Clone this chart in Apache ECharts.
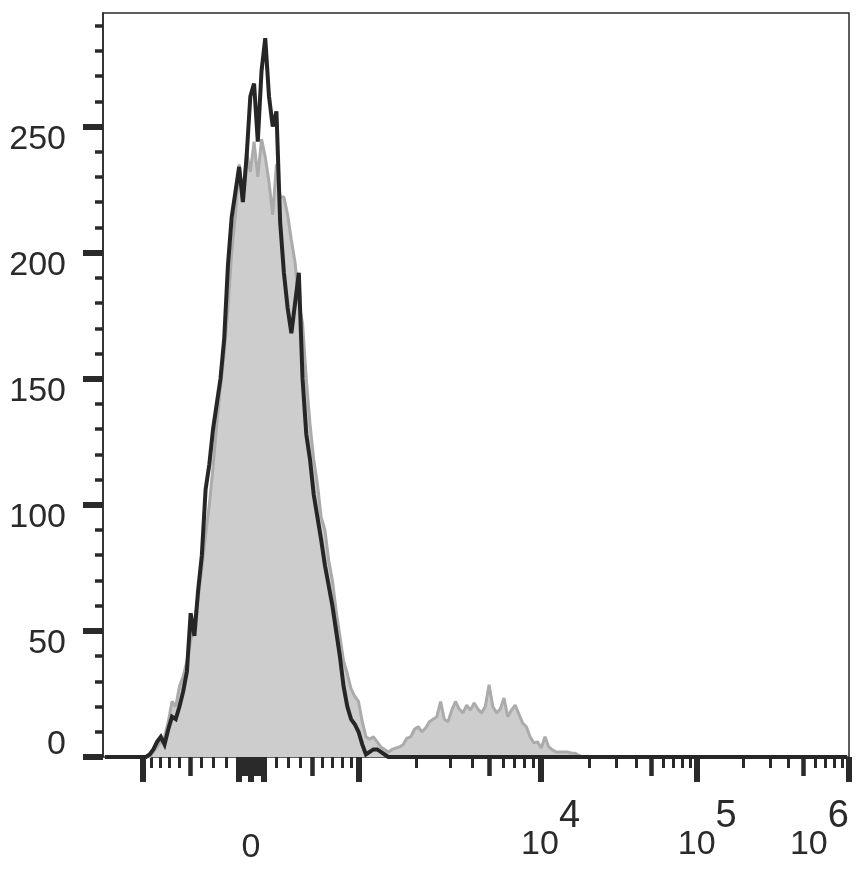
<!DOCTYPE html>
<html>
<head>
<meta charset="utf-8">
<script src="https://cdn.jsdelivr.net/npm/echarts@6/dist/echarts.min.js"></script>
<style>
html,body{margin:0;padding:0;background:#fff;}
#chart{width:867px;height:874px;}
</style>
</head>
<body>
<div id="chart"></div>
<script>
// ---------------- data ----------------
// histogram bins are evenly spaced over the logicle display range [0,1]
const binCount = 200;
const blackStartBin = 11;
const blackCounts = [0,1,3,6,8,5,11,16,15,20,26,34,57,48,66,80,106,116,130,140,150,166,195,214,224,234,220,238,262,267,244,272,285,262,250,256,212,192,178,168,180,192,150,128,118,104,95,86,76,68,60,50,40,28,20,15,13,10,5,1,2,3,3,2,1,0];
const grayStartBin = 12;
const grayCounts = [0,2,4,6,8,14,22,20,28,32,38,46,54,63,75,88,100,115,132,147,160,178,200,215,235,222,240,232,244,230,245,238,228,215,235,222,222,215,205,196,180,172,150,132,118,108,95,90,78,70,58,48,38,33,27,24,22,14,8,7,8,6,4,3,2,3,3.5,4,5,7.5,8,11,12,10,11.5,14,15,16,22,15,14,18.6,22,19,17.5,20.6,18.6,21.4,19,17.5,20,28.6,20,17.5,19,23.4,16,18.6,20.6,17,13.5,12,8,5.6,6,3.6,8,4,2.8,2,2,2,2,1.6,1.5,0.8,0];

// y axis ticks / labels
const yMax = 295;
const yMajorTicks = [0,50,100,150,200,250];
const yMinorTicks = [10,20,30,40,60,70,80,90,110,120,130,140,160,170,180,190,210,220,230,240,260,270,280,290];
const yLabels = [50,100,150,200,250];
const yZeroLabel = [0];

// x axis ticks (real fluorescence values, logicle scale)
const xMajorTicks = [-1000,-100,0,100,1000,1e4,1e5,1e6];
const xMediumTicks = [-500,-90,-80,-70,-60,-50,-40,-30,-20,-10,10,20,30,40,50,60,70,80,90,500,5e3,5e4,5e5];
const xMinorTicks = [-900,-800,-700,-600,-400,-300,-200,200,300,400,600,700,800,900,
  2e3,3e3,4e3,6e3,7e3,8e3,9e3,2e4,3e4,4e4,6e4,7e4,8e4,9e4,2e5,3e5,4e5,6e5,7e5,8e5,9e5];
const xZeroLabel = [0];
const xPowerLabels = [1e4,1e5];
const xLastLabel = [1e6];

// logicle parameters
const LOGICLE = {T:1e6, M:4.855, W:0.895, A:0.0855};

// ---------------- logicle transform ----------------
const ln10 = Math.LN10;
const lm = LOGICLE.M*ln10, lw = LOGICLE.W*ln10, la = LOGICLE.A*ln10;
function solveP(w){
  let lo=1.0000001, hi=100;
  for(let k=0;k<200;k++){
    const mid=(lo+hi)/2;
    const f=2*mid*Math.log(mid)/(mid+1);
    if(f<w) lo=mid; else hi=mid;
  }
  return (lo+hi)/2;
}
const lp = solveP(lw);
const lK = LOGICLE.T*Math.exp(-(lm-lw));
function S(y){
  if(y>=lw){
    const u=y-lw;
    return lK*(Math.exp(u)-lp*lp*Math.exp(-u/lp)+lp*lp-1);
  }
  return -S(2*lw-y);
}
function toDisplay(v){
  let lo=-la-5, hi=lm+5;
  for(let k=0;k<200;k++){
    const mid=(lo+hi)/2;
    if(S(mid)<v) lo=mid; else hi=mid;
  }
  const y=(lo+hi)/2;
  return (y+la)/(lm+la);
}

// ---------------- build series ----------------
function buildSeries(start, counts){
  const out=[];
  for(let i=0;i<binCount;i++){
    const j=i-start;
    const c=(j>=0 && j<counts.length)?counts[j]:0;
    out.push([(i+0.5)/binCount, c]);
  }
  return out;
}
const blackData = buildSeries(blackStartBin, blackCounts);
const grayData = buildSeries(grayStartBin, grayCounts);

const INK = '#2a2a2a';
const FONT = '"Liberation Sans", Arial, Helvetica, sans-serif';

function xAxisBase(extra){
  return Object.assign({
    type:'value', min:0, max:1, position:'bottom', gridIndex:0,
    axisLine:{show:false}, splitLine:{show:false},
    axisTick:{show:false}, axisLabel:{show:false}
  }, extra);
}
function tickAxis(vals, len, width){
  return xAxisBase({
    axisTick:{show:true, inside:false, length:len, customValues: vals.map(toDisplay),
      lineStyle:{color:INK, width:width}}
  });
}
const richSup = {
  b:{fontSize:34, fontFamily:FONT, color:INK, lineHeight:64, verticalAlign:'bottom'},
  s:{fontSize:38, fontFamily:FONT, color:INK, lineHeight:64, verticalAlign:'top'}
};
function powerFormatter(val){
  let best=null, bd=1e9;
  [1e4,1e5,1e6].forEach(v=>{const d=Math.abs(toDisplay(v)-val); if(d<bd){bd=d;best=v;}});
  const e=Math.round(Math.log10(best));
  return '{b|10}{s|'+e+'}';
}

const option = {
  animation:false,
  backgroundColor:'#fff',
  grid:{left:103, top:13, width:746, height:744, show:true, borderColor:INK, borderWidth:1.5, outerBoundsMode:'none'},
  xAxis:[
    tickAxis(xMajorTicks, 25, 6),
    tickAxis(xMediumTicks, 19, 4.5),
    tickAxis(xMinorTicks, 11, 3),
    xAxisBase({axisLabel:{show:true, customValues: xZeroLabel.map(toDisplay), margin:74,
      fontSize:34, fontFamily:FONT, color:INK, formatter:()=> '0'}}),
    xAxisBase({axisLabel:{show:true, customValues: xPowerLabels.map(toDisplay), margin:41,
      formatter:powerFormatter, rich:richSup, padding:[0,0,0,20]}}),
    xAxisBase({axisLabel:{show:true, customValues: xLastLabel.map(toDisplay), margin:41, align:'right',
      formatter:powerFormatter, rich:richSup}})
  ],
  yAxis:[
    {type:'value', min:0, max:yMax, interval:50, position:'left', gridIndex:0,
      axisLine:{show:true, lineStyle:{color:INK, width:1.5}},
      splitLine:{show:false},
      axisTick:{show:true, length:20, customValues:yMajorTicks, lineStyle:{color:INK, width:6}},
      axisLabel:{show:true, customValues:yLabels, margin:37, fontSize:34, lineHeight:26, fontFamily:FONT, color:INK, verticalAlign:'top'}},
    {type:'value', min:0, max:yMax, interval:50, position:'left', gridIndex:0,
      axisLine:{show:false}, splitLine:{show:false},
      axisTick:{show:true, length:8, customValues:yMinorTicks, lineStyle:{color:INK, width:3.5}},
      axisLabel:{show:false}},
    {type:'value', min:0, max:yMax, interval:50, position:'left', gridIndex:0,
      axisLine:{show:false}, splitLine:{show:false}, axisTick:{show:false},
      axisLabel:{show:true, customValues:yZeroLabel, margin:37, fontSize:34, lineHeight:24, fontFamily:FONT, color:INK, verticalAlign:'bottom'}}
  ],
  series:[
    {type:'line', name:'control', xAxisIndex:0, yAxisIndex:0, data:grayData, showSymbol:false, symbol:'none',
      lineStyle:{color:'#ababab', width:3}, areaStyle:{color:'#cdcdcd', opacity:1}, z:2},
    {type:'line', name:'stained', xAxisIndex:0, yAxisIndex:0, data:blackData, showSymbol:false, symbol:'none',
      lineStyle:{color:'#262626', width:4, join:'miter', miterLimit:3}, z:3}
  ]
};
const chart = echarts.init(document.getElementById('chart'), null, {renderer:'canvas'});
chart.setOption(option);
</script>
</body>
</html>
